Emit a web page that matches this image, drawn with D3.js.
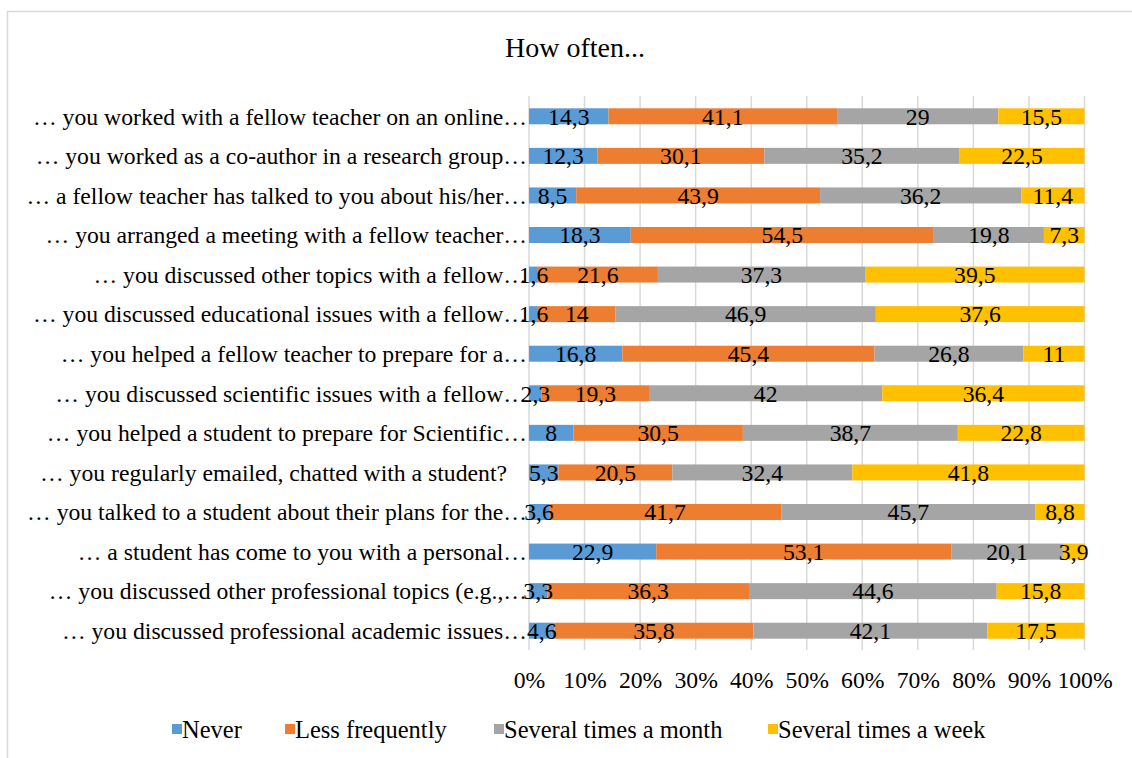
<!DOCTYPE html>
<html><head><meta charset="utf-8">
<script src="https://cdn.jsdelivr.net/npm/d3@7"></script>
<style>body{margin:0;background:#fff}svg{display:block;font-family:"Liberation Serif","Times New Roman",serif}</style>
</head><body>
<svg id="c" width="1132" height="758"></svg>
<script>
const categories = [
  "… you worked with a fellow teacher on an online…",
  "… you worked as a co-author in a research group…",
  "… a fellow teacher has talked to you about his/her…",
  "… you arranged a meeting with a fellow teacher…",
  "… you discussed other topics with a fellow…",
  "… you discussed educational issues with a fellow…",
  "… you helped a fellow teacher to prepare for a…",
  "… you discussed scientific issues with a fellow…",
  "… you helped a student to prepare for Scientific…",
  "… you regularly emailed, chatted with a student?",
  "… you talked to a student about their plans for the…",
  "… a student has come to you with a personal…",
  "… you discussed other professional topics (e.g.,…",
  "… you discussed professional academic issues…"
];
const seriesNames = ["Never", "Less frequently", "Several times a month", "Several times a week"];
const never = [14.3, 12.3, 8.5, 18.3, 1.6, 1.6, 16.8, 2.3, 8, 5.3, 3.6, 22.9, 3.3, 4.6];
const lessFrequently = [41.1, 30.1, 43.9, 54.5, 21.6, 14, 45.4, 19.3, 30.5, 20.5, 41.7, 53.1, 36.3, 35.8];
const severalMonth = [29, 35.2, 36.2, 19.8, 37.3, 46.9, 26.8, 42, 38.7, 32.4, 45.7, 20.1, 44.6, 42.1];
const severalWeek = [15.5, 22.5, 11.4, 7.3, 39.5, 37.6, 11, 36.4, 22.8, 41.8, 8.8, 3.9, 15.8, 17.5];
const tickLabels = ["0%","10%","20%","30%","40%","50%","60%","70%","80%","90%","100%"];
const colors = ["#5B9BD5", "#ED7D31", "#A5A5A5", "#FFC000"];

const series = [never, lessFrequently, severalMonth, severalWeek];
const svg = d3.select("#c");
const FS = 23.7;

// chart border
svg.append("rect").attr("x", 7.5).attr("y", 11.5).attr("width", 1140).attr("height", 770)
  .attr("fill", "#fff").attr("stroke", "#D9D9D9").attr("stroke-width", 1.5);

const x = d3.scaleLinear().domain([0, 1]).range([529, 1084.5]);
const y = d3.scaleBand().domain(categories).range([96.5, 650.5]).paddingInner(0.596).paddingOuter(0.298);

// gridlines
svg.append("g").selectAll("line").data(d3.range(0, 1.0001, 0.1)).join("line")
  .attr("x1", d => x(d)).attr("x2", d => x(d)).attr("y1", 96).attr("y2", 650)
  .attr("stroke", "#D9D9D9").attr("stroke-width", 1.5);

// stack data
const rows = categories.map((c, i) => {
  const vals = series.map(s => s[i]);
  const tot = d3.sum(vals);
  let acc = 0;
  return vals.map((v, k) => { const seg = {cat: c, k, v, x0: acc / tot, x1: (acc + v) / tot}; acc += v; return seg; });
});
const segs = rows.flat();

svg.append("g").selectAll("rect").data(segs).join("rect")
  .attr("x", d => x(d.x0)).attr("width", d => x(d.x1) - x(d.x0))
  .attr("y", d => y(d.cat)).attr("height", y.bandwidth())
  .attr("fill", d => colors[d.k]);

// category labels
svg.append("g").selectAll("text").data(categories).join("text")
  .attr("x", d => d.endsWith("…") ? 527 : 507)
  .attr("y", d => y(d) + y.bandwidth() / 2).attr("dy", "0.35em")
  .attr("text-anchor", "end").attr("font-size", FS).attr("fill", "#000").text(d => d);

// data labels
const fmt = v => String(v).replace(".", ",");
svg.append("g").selectAll("text").data(segs).join("text")
  .attr("x", d => (x(d.x0) + x(d.x1)) / 2).attr("y", d => y(d.cat) + y.bandwidth() / 2)
  .attr("dy", "0.35em").attr("text-anchor", "middle")
  .attr("font-size", FS).attr("fill", "#000").text(d => fmt(d.v));

// x axis tick labels
const xAxis = d3.axisBottom(x).tickValues(d3.range(0, 1.0001, 0.1)).tickFormat((d, i) => tickLabels[i]).tickSize(0).tickPadding(0);
const ax = svg.append("g").attr("transform", "translate(0,671)").call(xAxis);
ax.select(".domain").remove();
ax.selectAll("text").attr("font-size", FS).attr("font-family", "Liberation Serif").attr("fill", "#000");

// title
svg.append("text").attr("x", 575).attr("y", 57).attr("text-anchor", "middle")
  .attr("font-size", 28).attr("fill", "#000").text("How often...");

// legend
const legX = [172, 285, 494, 768];
const lg = svg.append("g").selectAll("g").data(seriesNames).join("g")
  .attr("transform", (d, i) => `translate(${legX[i]},729)`);
lg.append("rect").attr("x", 0).attr("y", -5).attr("width", 10).attr("height", 10).attr("fill", (d, i) => colors[i]);
lg.append("text").attr("x", 10).attr("dy", "0.35em").attr("font-size", 24.5).attr("fill", "#000").text(d => d);
</script>
</body></html>
